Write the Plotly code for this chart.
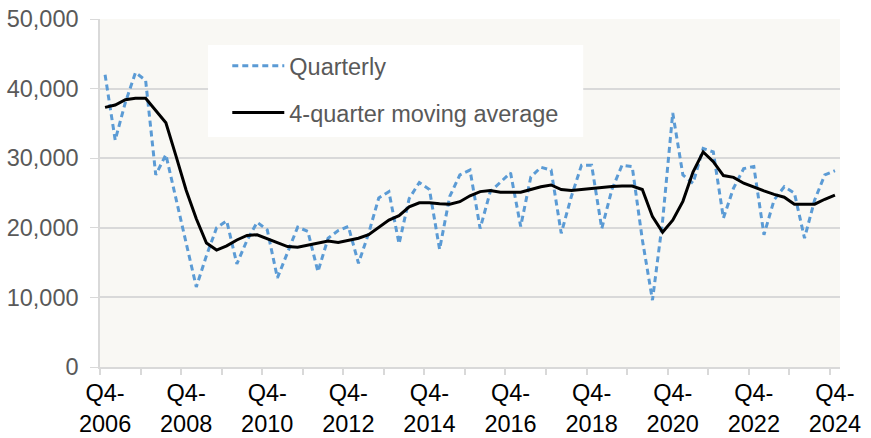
import plotly.graph_objects as go

# quarter labels Q4-2006 .. Q4-2024
quarters = ["Q4-2006"] + [f"Q{q}-{y}" for y in range(2007, 2025) for q in (1, 2, 3, 4)]

quarterly = [
    42000, 32600, 38000, 42300, 41200, 27600, 30500, 24000, 17800,
    11500, 16000, 20000, 21000, 14800, 18200, 20800, 19700,
    12800, 16400, 20100, 19500, 13700, 18500, 19600, 20200,
    14900, 19200, 24300, 25200, 17700, 24200, 26500, 25500,
    16900, 24500, 27600, 28300, 19900, 25200, 26600, 27900,
    20200, 27300, 28700, 28300, 19200, 24500, 29000, 29000,
    19900, 25500, 29000, 28800, 18300, 9600, 21000, 36500,
    27600, 26400, 31400, 30900, 21400, 25700, 28500, 28800,
    19000, 24000, 25900, 25000, 18500, 24000, 27600, 28200,
]

moving_avg = [
    37300, 37650, 38400, 38600, 38600, 36900, 35100, 30300, 25400,
    21300, 17800, 16800, 17400, 18250, 18900, 19000, 18400,
    17800, 17300, 17200, 17500, 17800, 18100, 17900, 18250,
    18500, 19000, 20100, 21100, 21750, 23000, 23600, 23600,
    23450, 23400, 23750, 24600, 25200, 25350, 25100, 25100,
    25100, 25500, 25900, 26150, 25500, 25350, 25500, 25750,
    25900, 25950, 26000, 26000, 25500, 21600, 19350, 21100,
    23800, 28000, 30900, 29500, 27500, 27250, 26400, 25800,
    25300, 24800, 24400, 23400, 23400, 23400, 24100, 24700,
]

x = list(range(len(quarters)))
label_pos = [i for i, q in enumerate(quarters) if q.startswith("Q4-") and int(q[3:]) % 2 == 0]
label_text = [quarters[i].replace("-", "-<br>") for i in label_pos]
year_bounds = [i - 0.5 for i in range(0, len(quarters), 4)]

font = "Liberation Sans, Arial, sans-serif"
grid = "#d9d9d9"

fig = go.Figure()
fig.add_trace(go.Scatter(
    x=x, y=quarterly, name="Quarterly", mode="lines",
    line=dict(color="#5b9bd5", width=3, dash="6px,4px"),
    legendgroup="a",
))
fig.add_trace(go.Scatter(
    x=x, y=moving_avg, name="4-quarter moving average", mode="lines",
    line=dict(color="#000000", width=3),
    legendgroup="b",
))

# white legend panel (wider than plotly's own legend box)
fig.add_shape(type="rect", xref="paper", yref="paper",
              x0=0.146, x1=0.653, y0=0.661, y1=0.925,
              fillcolor="white", line_width=0, layer="above")

fig.update_layout(
    width=871, height=438,
    margin=dict(l=100, r=31, t=19, b=71),
    paper_bgcolor="white",
    plot_bgcolor="#f9f8f4",
    font=dict(family=font, size=23.5, color="#595959"),
    showlegend=True,
    legend=dict(
        x=0.172, y=0.928, xanchor="left", yanchor="top",
        bgcolor="rgba(0,0,0,0)", borderwidth=0,
        font=dict(size=23.5, color="#595959"),
        itemwidth=52, tracegroupgap=13,
    ),
)

fig.update_xaxes(
    range=[-0.5, len(quarters) - 0.5], automargin=False,
    tickvals=label_pos, ticktext=label_text,
    ticks="", showgrid=False, zeroline=False,
    showline=True, linecolor=grid, linewidth=1.5,
    tickfont=dict(color="#000000", size=23.5),
    ticklabelstandoff=4,
    minor=dict(tickvals=year_bounds, ticks="outside", ticklen=6,
               tickcolor=grid, tickwidth=1.5, showgrid=False),
)
fig.update_yaxes(
    range=[0, 50000], dtick=10000, tickformat=",", automargin=False,
    showgrid=True, gridcolor=grid, gridwidth=1.5, zeroline=False,
    showline=True, linecolor=grid, linewidth=1.5,
    ticks="outside", ticklen=8, tickcolor=grid,
    ticklabelstandoff=7,
)

# drop the browser's default 8px page margin so the figure fills the window
fig.write_html("out.html", config={"displayModeBar": False},
               post_script="document.body.style.margin = '0';")
